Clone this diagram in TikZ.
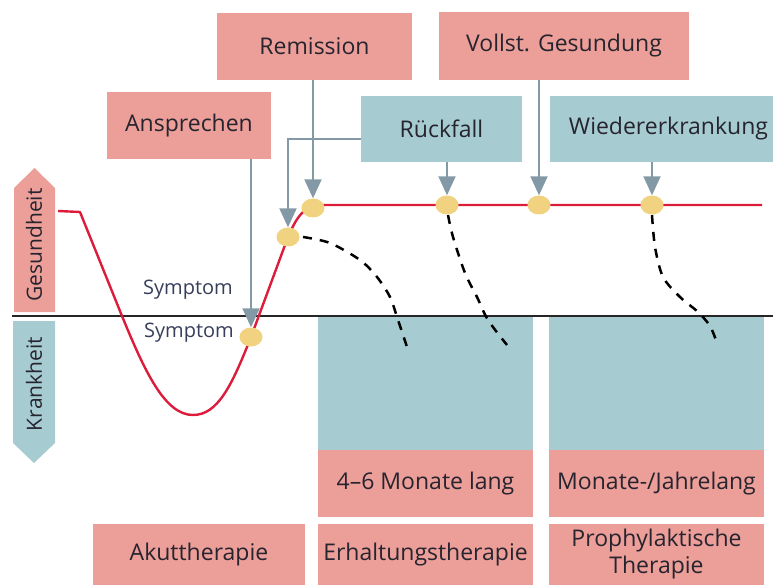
\documentclass[tikz,border=0pt]{standalone}
\usepackage{fontspec}
\setmainfont{Open Sans}
\usetikzlibrary{arrows.meta,shapes.geometric,calc}
\definecolor{pinkbox}{RGB}{236,158,153}
\definecolor{tealbox}{RGB}{166,204,209}
\definecolor{dotyel}{RGB}{240,210,128}
\definecolor{curvered}{RGB}{220,28,58}
\definecolor{arrgray}{RGB}{132,153,166}
\definecolor{txt}{RGB}{38,36,46}
\definecolor{symtxt}{RGB}{55,62,90}
\tikzset{
  lbl/.style={inner sep=0pt, text=txt, font=\fontsize{23}{27}\selectfont, align=center},
  pinkst/.style={lbl, fill=pinkbox},
  tealst/.style={lbl, fill=tealbox},
  dot/.style={ellipse, fill=dotyel, minimum width=23pt, minimum height=19pt, inner sep=0pt},
  arr/.style={draw=arrgray, line width=2pt, -{Triangle[width=17pt,length=19pt]}},
  redline/.style={draw=curvered, line width=2.4pt, line join=round},
  dashline/.style={draw=black, line width=2.5pt, dash pattern=on 9pt off 8pt},
  symst/.style={inner sep=0pt, text=symtxt, font=\fontsize{20}{24}\selectfont},
  sidest/.style={inner sep=0pt, text=txt, font=\fontsize{21}{25}\selectfont, rotate=90},
}
\begin{document}
\begin{tikzpicture}[x=1pt,y=-1pt]
\useasboundingbox (0,0) rectangle (773,585);

% side arrows
\fill[pinkbox] (14,312) -- (14,188) -- (34.5,168) -- (55,188) -- (55,312) -- cycle;
\fill[tealbox] (13,321) -- (55,321) -- (55,443) -- (34,463) -- (13,443) -- cycle;
\node[sidest] (gesund) at (34,245) {Gesundheit};
\node[sidest] (krank) at (34,384) {Krankheit};

% lower boxes
\node[tealst, minimum width=215pt, minimum height=134pt] (t1) at (425.5,383) {};
\node[tealst, minimum width=215pt, minimum height=134pt] (t2) at (656.5,383) {};
\node[pinkst, minimum width=215pt, minimum height=67pt] (m1) at (425.5,483.5) {4–6 Monate lang};
\node[pinkst, minimum width=215pt, minimum height=67pt] (m2) at (656.5,483.5) {Monate-/Jahrelang};
\node[pinkst, minimum width=212pt, minimum height=61pt] (akut) at (199,554.5) {Akuttherapie};
\node[pinkst, minimum width=215pt, minimum height=61pt] (erh) at (425.5,554.5) {Erhaltungstherapie};
\node[pinkst, minimum width=215pt, minimum height=61pt] (pro) at (656.5,554.5) {Prophylaktische\\Therapie};

% axis
\coordinate (axl) at (12,316);
\coordinate (axr) at (773,316);
\draw[line width=1.3pt, black!85] (axl) -- (axr);

% top boxes
\node[pinkst, minimum width=195pt, minimum height=67pt] (rem) at (314.5,46.5) {Remission};
\node[pinkst, minimum width=250pt, minimum height=68pt] (voll) at (564,46) {Vollst. Gesundung};
\node[pinkst, minimum width=164pt, minimum height=67pt] (ans) at (189,125.5) {Ansprechen};
\node[tealst, minimum width=161pt, minimum height=66pt] (rf) at (441.5,129) {Rückfall};
\node[tealst, minimum width=223pt, minimum height=66pt, text width=213pt, align=right] (wie) at (661.5,129) {Wiedererkrankung};

% symptom labels
\node[symst] (s1) at (188,290) {Symptom};
\node[symst] (s2) at (189,333) {Symptom};

% dashed relapse curves
\draw[dashline] plot[smooth] coordinates {(303,237) (330,243) (360,260) (377,277) (390,297) (398,320) (408,350)};
\draw[dashline] plot[smooth] coordinates {(448,215) (453,237) (465,273) (477,297) (488,320) (507,345)};
\draw[dashline] plot[smooth] coordinates {(652,215) (655,247) (663,277) (680,297) (698,312) (710,326) (717,343)};

% red course
\draw[redline] (58,211) -- (80,212) -- (122,316) .. controls (145,372) and (165,415) .. (193,415)
  .. controls (218,415) and (232,385) .. (251,337) -- (288,237)
  .. controls (298,214) and (305,205) .. (325,205) -- (762,205);

% dots
\node[dot] (c0) at (251,337) {};
\node[dot] (c1) at (288,237) {};
\node[dot] (c2) at (313,208) {};
\node[dot] (c3) at (447,205) {};
\node[dot] (c4) at (539,205) {};
\node[dot] (c5) at (652,205) {};

% arrows
\draw[arr] (ans.south -| c0) -- (c0.north);
\draw[arr] (rem.south -| c2) -- (c2.north);
\draw[arr] ($(rf.west)+(0,10)$) -| (c1.north);
\draw[arr] (rf.south -| c3) -- (c3.north);
\draw[arr] (voll.south -| c4) -- (c4.north);
\draw[arr] (wie.south -| c5) -- (c5.north);
\end{tikzpicture}
\end{document}
